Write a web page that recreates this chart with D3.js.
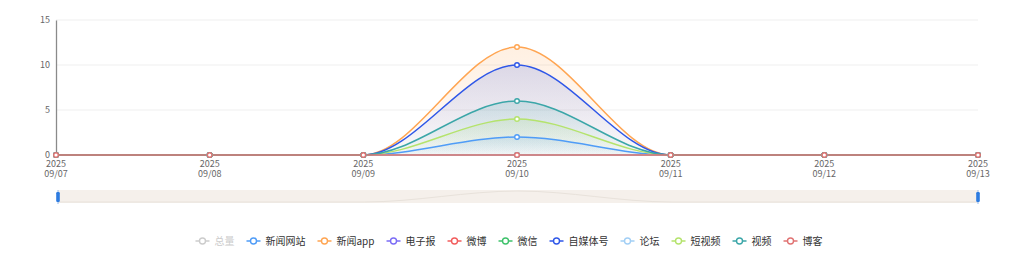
<!DOCTYPE html>
<html>
<head>
<meta charset="utf-8">
<script src="https://cdn.jsdelivr.net/npm/d3@7"></script>
<style>
  body { margin: 0; background: #fff; }
  text { font-family: "Noto Sans CJK SC", "Noto Sans", sans-serif; }
</style>
</head>
<body>
<div class="canvas"></div>
<script>
// data
const dates = ['2025-09-07', '2025-09-08', '2025-09-09', '2025-09-10', '2025-09-11', '2025-09-12', '2025-09-13'];
const seriesNames = ['总量', '新闻网站', '新闻app', '电子报', '微博', '微信', '自媒体号', '论坛', '短视频', '视频', '博客'];
const seriesColors = ['#cccccc', '#4f9cf7', '#ffa552', '#7b6cf6', '#f25c5c', '#3ec26b', '#2f57e8', '#a2cff5', '#b4e36c', '#3ba6a8', '#e07272'];
const seriesValues = [
  [0, 0, 0, 34, 0, 0, 0],
  [0, 0, 0, 2, 0, 0, 0],
  [0, 0, 0, 12, 0, 0, 0],
  [0, 0, 0, 0, 0, 0, 0],
  [0, 0, 0, 0, 0, 0, 0],
  [0, 0, 0, 0, 0, 0, 0],
  [0, 0, 0, 10, 0, 0, 0],
  [0, 0, 0, 0, 0, 0, 0],
  [0, 0, 0, 4, 0, 0, 0],
  [0, 0, 0, 6, 0, 0, 0],
  [0, 0, 0, 0, 0, 0, 0]
];
const hidden = ['总量'];
const yTicks = [0, 5, 10, 15];

const dims = { width: 1018, height: 261 };
const plot = { left: 56, right: 978, top: 20, bottom: 155 };

const svg = d3.select('.canvas')
    .append('svg')
    .attr('width', dims.width)
    .attr('height', dims.height)

const parse = d3.timeParse('%Y-%m-%d');
const x = d3.scalePoint()
    .domain(dates)
    .range([plot.left, plot.right])

const y = d3.scaleLinear()
    .domain([0, 15])
    .range([plot.bottom, plot.top])

// grid lines
svg.append('g')
    .selectAll('line')
    .data(yTicks.filter(d => d > 0))
    .enter().append('line')
        .attr('x1', plot.left).attr('x2', plot.right)
        .attr('y1', d => y(d)).attr('y2', d => y(d))
        .attr('stroke', '#efefef')

// y axis
const yAxis = d3.axisLeft(y).tickValues(yTicks).tickSize(0).tickPadding(6);
const yg = svg.append('g')
    .attr('transform', `translate(${plot.left},0)`)
    .call(yAxis)
yg.select('.domain').attr('stroke', '#8a8a8a').attr('stroke-width', 1.3)
yg.selectAll('text').attr('fill', '#666').style('font-size', '9px')

// x axis
const xAxis = d3.axisBottom(x).tickSize(0).tickFormat('');
const xg = svg.append('g')
    .attr('transform', `translate(0,${plot.bottom})`)
    .call(xAxis)
xg.select('.domain').attr('stroke', '#8a8a8a')

const fmtYear = d3.timeFormat('%Y');
const fmtDay = d3.timeFormat('%m/%d');
const xl = svg.append('g').selectAll('g')
    .data(dates)
    .enter().append('g')
xl.append('text')
    .attr('x', d => x(d)).attr('y', 167)
    .attr('text-anchor', 'middle').attr('fill', '#666').style('font-size', '9px')
    .text(d => fmtYear(parse(d)))
xl.append('text')
    .attr('x', d => x(d)).attr('y', 177)
    .attr('text-anchor', 'middle').attr('fill', '#666').style('font-size', '9px')
    .text(d => fmtDay(parse(d)))

// gradients
const defs = svg.append('defs');
seriesNames.forEach((name, i) => {
    const g = defs.append('linearGradient')
        .attr('id', 'grad' + i)
        .attr('x1', 0).attr('y1', 0).attr('x2', 0).attr('y2', 1)
    g.append('stop').attr('offset', '0%').attr('stop-color', seriesColors[i]).attr('stop-opacity', 0.17)
    g.append('stop').attr('offset', '100%').attr('stop-color', seriesColors[i]).attr('stop-opacity', 0.02)
})

const line = d3.line()
    .x((d, i) => x(dates[i]))
    .y(d => y(d))
    .curve(d3.curveMonotoneX)

const area = d3.area()
    .x((d, i) => x(dates[i]))
    .y0(y(0))
    .y1(d => y(d))
    .curve(d3.curveMonotoneX)

const graph = svg.append('g');
const visible = seriesNames.map((n, i) => i).filter(i => !hidden.includes(seriesNames[i]));

// areas
visible.forEach(i => {
    if (d3.max(seriesValues[i]) === 0) return;
    graph.append('path')
        .attr('d', area(seriesValues[i]))
        .attr('fill', `url(#grad${i})`)
})

// lines and symbols
visible.forEach(i => {
    graph.append('path')
        .attr('d', line(seriesValues[i]))
        .attr('fill', 'none')
        .attr('stroke', seriesColors[i])
        .attr('stroke-width', 1.5)
})
visible.forEach(i => {
    graph.append('g').selectAll('circle')
        .data(seriesValues[i])
        .enter().append('circle')
            .attr('cx', (d, j) => x(dates[j]))
            .attr('cy', d => y(d))
            .attr('r', 2.3)
            .attr('fill', '#fff')
            .attr('stroke', seriesColors[i])
            .attr('stroke-width', 1.4)
})

// data zoom slider
const slider = { left: 58, right: 978, top: 190, bottom: 203 };
svg.append('rect')
    .attr('x', slider.left).attr('y', slider.top)
    .attr('width', slider.right - slider.left).attr('height', slider.bottom - slider.top)
    .attr('fill', '#f5f0eb')

const sx = d3.scalePoint().domain(dates).range([slider.left, slider.right]);
const sy = d3.scaleLinear().domain([0, d3.max(seriesValues[0])]).range([slider.bottom - 1, slider.top + 1]);
svg.append('path')
    .attr('d', d3.line().x((d, i) => sx(dates[i])).y(d => sy(d)).curve(d3.curveMonotoneX)(seriesValues[0]))
    .attr('fill', 'none')
    .attr('stroke', '#e8e2db')
    .attr('stroke-width', 1)

;[slider.left, slider.right].forEach(hx => {
    svg.append('line')
        .attr('x1', hx).attr('x2', hx)
        .attr('y1', slider.top).attr('y2', slider.bottom + 1)
        .attr('stroke', '#8fb8ee').attr('stroke-width', 1)
    svg.append('rect')
        .attr('x', hx - 1.8).attr('y', slider.top + 2)
        .attr('width', 3.6).attr('height', 10)
        .attr('rx', 1.2)
        .attr('fill', '#2d7be0')
})

// legend
const legend = svg.append('g');
let lx = 0;
seriesNames.forEach((name, i) => {
    const off = hidden.includes(name);
    const c = off ? '#cccccc' : seriesColors[i];
    const item = legend.append('g').attr('transform', `translate(${lx},0)`);
    item.append('line')
        .attr('x1', 0).attr('x2', 14).attr('y1', 0).attr('y2', 0)
        .attr('stroke', c).attr('stroke-width', 1.5)
    item.append('circle')
        .attr('cx', 7).attr('cy', 0).attr('r', 3)
        .attr('fill', '#fff').attr('stroke', c).attr('stroke-width', 1.4)
    const t = item.append('text')
        .attr('x', 19).attr('y', 3.5)
        .attr('fill', off ? '#cccccc' : '#333')
        .style('font-size', '10px')
        .text(name)
    lx += 19 + t.node().getComputedTextLength() + 12;
})
const legendWidth = lx - 12;
legend.attr('transform', `translate(${dims.width / 2 - legendWidth / 2},241)`)
</script>
</body>
</html>
